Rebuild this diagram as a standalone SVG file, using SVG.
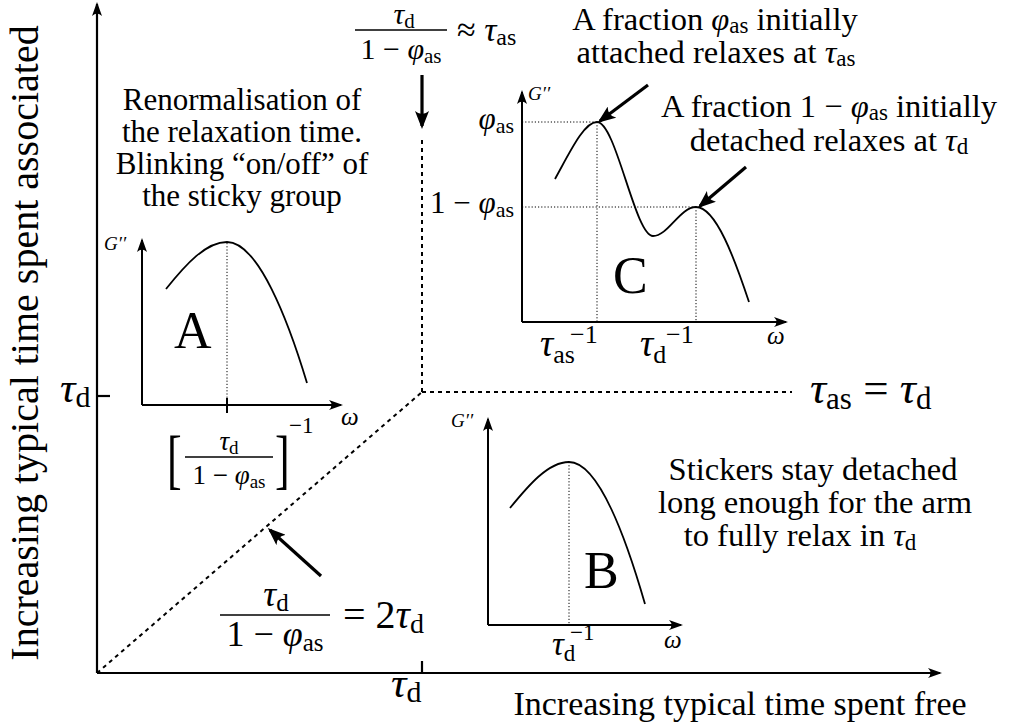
<svg xmlns="http://www.w3.org/2000/svg" width="1017" height="728" viewBox="0 0 1017 728" font-family="'Liberation Serif','Times New Roman','DejaVu Serif',serif">
<style>
text{font-family:'Liberation Serif','Times New Roman','DejaVu Serif',serif;fill:#000}
.ann{font-size:31px}
.ann2{font-size:32.5px}
.it{font-style:italic}
.ax{stroke:#000;stroke-width:2.2;fill:none}
.pax{stroke:#000;stroke-width:2;fill:none}
.cur{stroke:#000;stroke-width:1.8;fill:none}
.dash{stroke:#000;stroke-width:2;stroke-dasharray:4 4;fill:none}
.dot{stroke:#000;stroke-width:1;stroke-dasharray:1.2 2;fill:none}
.arr{stroke:#000;stroke-width:3.2;fill:none}
.bar{stroke:#000;stroke-width:1.3}
</style>
<defs>
<marker id="ah" viewBox="0 0 14 10" refX="12" refY="5" markerWidth="14" markerHeight="10" markerUnits="userSpaceOnUse" orient="auto">
<path d="M0,0 Q5,5 0,10 L14,5 Z" fill="#000"/>
</marker>
<marker id="ahb" viewBox="0 0 18 14" refX="15" refY="7" markerWidth="18" markerHeight="14" markerUnits="userSpaceOnUse" orient="auto">
<path d="M0,0 Q6,7 0,14 L18,7 Z" fill="#000"/>
</marker>
</defs>

<g id="main-axes">
<line class="ax" x1="97" y1="673" x2="940" y2="673" marker-end="url(#ah)"/>
<line class="ax" x1="97" y1="673" x2="97" y2="4" marker-end="url(#ah)"/>
<line class="ax" x1="97" y1="396" x2="110" y2="396"/>
<line class="ax" x1="422" y1="673" x2="422" y2="661"/>
<text transform="translate(38,343) rotate(-90)" text-anchor="middle" font-size="40">Increasing typical time spent associated</text>
<text x="740" y="715" text-anchor="middle" font-size="34">Increasing typical time spent free</text>
<text x="60" y="402" font-size="43"><tspan class="it">τ</tspan><tspan font-size="30" dy="5">d</tspan></text>
<text x="391" y="697" font-size="43"><tspan class="it">τ</tspan><tspan font-size="30" dy="5">d</tspan></text>
</g>

<g id="connectors">
<line class="dash" x1="97" y1="673" x2="422" y2="392"/>
<line class="dash" x1="422" y1="392" x2="422" y2="140"/>
<line class="dash" x1="422" y1="392" x2="792" y2="392"/>
<line class="arr" x1="422" y1="75" x2="422" y2="126" marker-end="url(#ahb)"/>
<line class="arr" x1="321" y1="576" x2="270" y2="530" marker-end="url(#ahb)"/>
<line class="arr" x1="648" y1="85" x2="600" y2="121" marker-end="url(#ahb)"/>
<line class="arr" x1="746" y1="167" x2="700" y2="206" marker-end="url(#ahb)"/>
</g>

<g id="top-formula">
<text x="404" y="24" font-size="30" text-anchor="middle"><tspan class="it">τ</tspan><tspan font-size="21" dy="4">d</tspan></text>
<line class="bar" x1="355" y1="30" x2="447" y2="30"/>
<text x="401" y="59" font-size="30" text-anchor="middle">1 − <tspan class="it">φ</tspan><tspan font-size="21" dy="4">as</tspan></text>
<text x="457" y="41" font-size="34">≈ <tspan class="it">τ</tspan><tspan font-size="24" dy="4">as</tspan></text>
</g>

<g id="line-label">
<text x="810" y="403" font-size="45"><tspan class="it">τ</tspan><tspan font-size="31" dy="6">as</tspan><tspan dy="-6"> = </tspan><tspan class="it">τ</tspan><tspan font-size="31" dy="6">d</tspan></text>
</g>

<g id="bottom-formula">
<text x="276" y="606" font-size="36" text-anchor="middle"><tspan class="it">τ</tspan><tspan font-size="25" dy="5">d</tspan></text>
<line class="bar" x1="220" y1="615" x2="330" y2="615"/>
<text x="275" y="646" font-size="36" text-anchor="middle">1 − <tspan class="it">φ</tspan><tspan font-size="25" dy="5">as</tspan></text>
<text x="343" y="628" font-size="40">= 2<tspan class="it">τ</tspan><tspan font-size="28" dy="5">d</tspan></text>
</g>

<g id="panel-A">
<text class="ann" x="242" y="110" text-anchor="middle">Renormalisation of</text>
<text class="ann" x="242" y="142" text-anchor="middle">the relaxation time.</text>
<text class="ann" x="242" y="174" text-anchor="middle">Blinking “on/off” of</text>
<text class="ann" x="242" y="206" text-anchor="middle">the sticky group</text>
<line class="pax" x1="142" y1="405" x2="142" y2="240" marker-end="url(#ah)"/>
<line class="pax" x1="142" y1="405" x2="341" y2="405" marker-end="url(#ah)"/>
<line class="dot" x1="227" y1="243" x2="227" y2="405"/>
<line class="pax" x1="227" y1="398" x2="227" y2="413"/>
<path class="cur" d="M166,289 C186,264 206,242 227,242 C258,242 288,320 307,383"/>
<text x="104" y="250" font-size="19" class="it">G′′</text>
<text x="174" y="348" font-size="52">A</text>
<text x="341" y="425" font-size="25" class="it">ω</text>
<text transform="translate(167,481) scale(1,1.5)" font-size="44">[</text>
<text transform="translate(275,481) scale(1,1.5)" font-size="44">]</text>
<text x="229" y="450" font-size="27" text-anchor="middle"><tspan class="it">τ</tspan><tspan font-size="19" dy="4">d</tspan></text>
<line class="bar" x1="185" y1="457" x2="273" y2="457"/>
<text x="229" y="484" font-size="27" text-anchor="middle">1 − <tspan class="it">φ</tspan><tspan font-size="19" dy="4">as</tspan></text>
<text x="289" y="433" font-size="23">−1</text>
</g>

<g id="panel-B">
<text class="ann2" x="813" y="480" text-anchor="middle">Stickers stay detached</text>
<text class="ann2" x="815" y="513" text-anchor="middle">long enough for the arm</text>
<text class="ann2" x="800" y="546" text-anchor="middle">to fully relax in <tspan class="it">τ</tspan><tspan font-size="23" dy="4">d</tspan></text>
<line class="pax" x1="488" y1="625" x2="488" y2="419" marker-end="url(#ah)"/>
<line class="pax" x1="488" y1="625" x2="681" y2="625" marker-end="url(#ah)"/>
<line class="dot" x1="569" y1="462" x2="569" y2="625"/>
<path class="cur" d="M510,508 C528,486 548,462 569,462 C600,462 628,545 645,604"/>
<text x="451" y="427" font-size="19" class="it">G′′</text>
<text x="584" y="588" font-size="52">B</text>
<text x="664" y="648" font-size="25" class="it">ω</text>
<text x="552" y="655" font-size="33"><tspan class="it">τ</tspan><tspan font-size="23" dy="6">d</tspan></text>
<text x="570" y="640" font-size="23">−1</text>
</g>

<g id="panel-C">
<text class="ann2" x="715" y="30" text-anchor="middle">A fraction <tspan class="it">φ</tspan><tspan font-size="23" dy="3">as</tspan><tspan dy="-3"> initially</tspan></text>
<text class="ann2" x="716" y="63" text-anchor="middle">attached relaxes at <tspan class="it">τ</tspan><tspan font-size="23" dy="3">as</tspan></text>
<text class="ann2" x="829" y="117" text-anchor="middle">A fraction 1 − <tspan class="it">φ</tspan><tspan font-size="23" dy="3">as</tspan><tspan dy="-3"> initially</tspan></text>
<text class="ann2" x="829" y="151" text-anchor="middle">detached relaxes at <tspan class="it">τ</tspan><tspan font-size="23" dy="3">d</tspan></text>
<line class="pax" x1="522" y1="322" x2="522" y2="92" marker-end="url(#ah)"/>
<line class="pax" x1="522" y1="322" x2="786" y2="322" marker-end="url(#ah)"/>
<line class="dot" x1="522" y1="122" x2="597" y2="122"/>
<line class="dot" x1="522" y1="207" x2="696" y2="207"/>
<line class="dot" x1="597" y1="122" x2="597" y2="322"/>
<line class="dot" x1="696" y1="207" x2="696" y2="322"/>
<path class="cur" d="M555,179 C570,152 584,122 597,122 C616,122 635,236 653,236 C668,236 680,207 696,207 C716,207 735,260 749,302"/>
<text x="528" y="100" font-size="19" class="it">G′′</text>
<text x="613" y="293" font-size="52">C</text>
<text x="767" y="344" font-size="25" class="it">ω</text>
<text x="514" y="129" font-size="31" text-anchor="end"><tspan class="it">φ</tspan><tspan font-size="22" dy="4">as</tspan></text>
<text x="514" y="213" font-size="31" text-anchor="end">1 − <tspan class="it">φ</tspan><tspan font-size="22" dy="4">as</tspan></text>
<text x="540" y="356" font-size="37"><tspan class="it">τ</tspan><tspan font-size="26" dy="7">as</tspan></text>
<text x="570" y="343" font-size="26">−1</text>
<text x="640" y="356" font-size="37"><tspan class="it">τ</tspan><tspan font-size="26" dy="7">d</tspan></text>
<text x="666" y="343" font-size="26">−1</text>
</g>
</svg>
